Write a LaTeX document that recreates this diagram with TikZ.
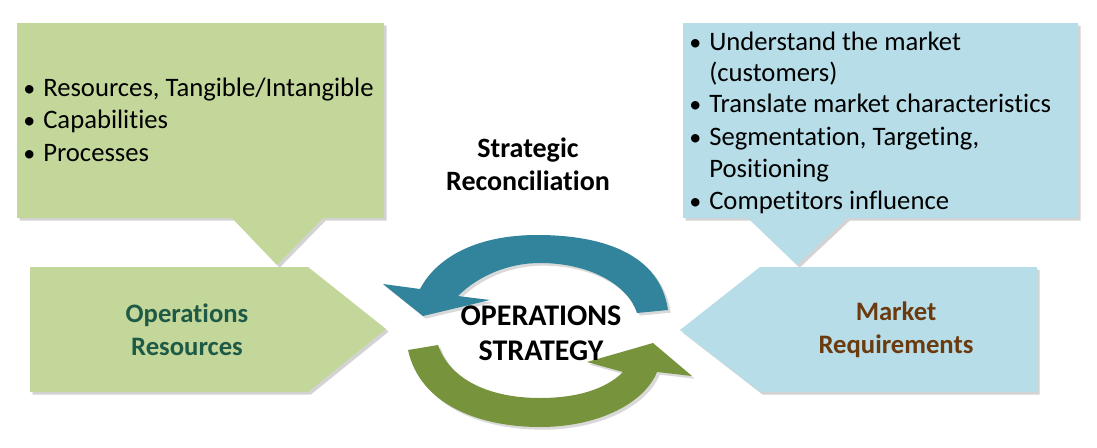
\documentclass[tikz,border=0pt]{standalone}
\usepackage{fontspec}
\setmainfont{Carlito}[Ligatures=NoCommon]
\usetikzlibrary{shadows}
\definecolor{gfill}{HTML}{C4D79B}
\definecolor{bfill}{HTML}{B7DEE8}
\definecolor{teal}{HTML}{31849B}
\definecolor{olive}{HTML}{77933C}
\definecolor{dgreen}{HTML}{1E5A46}
\definecolor{brown}{HTML}{6B3A0F}
\begin{document}
\begin{tikzpicture}[x=0.75pt,y=-0.75pt,
  shp/.style={draw=none,drop shadow={opacity=0.35,shadow xshift=2pt,shadow yshift=-2pt}},
  item/.style={anchor=base west,inner sep=0pt,font=\fontsize{20}{24}\selectfont},
  bul/.style={anchor=base west,inner sep=0pt,font=\fontsize{18}{24}\selectfont},
  lab/.style={align=center,font=\bfseries\fontsize{20}{25}\selectfont},
  arr/.style={draw=none,drop shadow={opacity=0.3,shadow xshift=2pt,shadow yshift=-2pt}}]
\useasboundingbox (0,0) rectangle (1097,447);
% left callout
\path[shp,fill=gfill] (17,23) -- (384,23) -- (384,218) -- (323,218) -- (277,265) -- (232,218) -- (17,218) -- cycle;
% left pentagon
\path[shp,fill=gfill] (30,267) -- (308,267) -- (386,329) -- (308,392) -- (30,392) -- cycle;
% right callout
\path[shp,fill=bfill] (683,23) -- (1078,23) -- (1078,218) -- (847,218) -- (797,265) -- (748,218) -- (683,218) -- cycle;
% right pentagon
\path[shp,fill=bfill] (760,267) -- (1037,267) -- (1037,392) -- (760,392) -- (680,330) -- cycle;
% top arrow
\path[arr,fill=teal] (668,310) .. controls (660,255) and (605,235) .. (537,235)
  .. controls (480,235) and (438,255) .. (420,289) -- (383,284) -- (423,316) -- (490,300) -- (458,296)
  .. controls (478,276) and (508,263) .. (540,263) .. controls (590,263) and (628,285) .. (637,313) -- cycle;
% bottom arrow
\path[arr,fill=olive] (408,350) .. controls (420,405) and (480,427) .. (540,427)
  .. controls (600,427) and (645,402) .. (657,372) -- (692,376) -- (653,343) -- (587,362) -- (623,372)
  .. controls (605,390) and (575,398) .. (540,398) .. controls (490,398) and (450,380) .. (438,345) -- cycle;
% texts
\node[bul] (lb1) at (23,96) {•};
\node[item] (l1) at (43,96) {Resources, Tangible/Intangible};
\node[bul] (lb2) at (23,128) {•};
\node[item] (l2) at (43,128) {Capabilities};
\node[bul] (lb3) at (23,161) {•};
\node[item] (l3) at (43,161) {Processes};
\node[bul] (rb1) at (689,50) {•};
\node[item] (r1) at (709,50) {Understand the market};
\node[item] (r1b) at (709,81) {(customers)};
\node[bul] (rb2) at (689,112) {•};
\node[item] (r2) at (709,112) {Translate market characteristics};
\node[bul] (rb3) at (689,145) {•};
\node[item] (r3) at (709,145) {Segmentation, Targeting,};
\node[item] (r3b) at (709,177) {Positioning};
\node[bul] (rb4) at (689,209) {•};
\node[item] (r4) at (709,209) {Competitors influence};
\node[lab,text=dgreen] (opres) at (187,330) {Operations\\Resources};
\node[lab,text=brown] (mkreq) at (896,330) {Market\\Requirements};
\node[lab,font=\bfseries\fontsize{21}{25}\selectfont] (rec) at (528,164) {Strategic\\Reconciliation};
\node[lab,font=\bfseries\fontsize{22.5}{26}\selectfont] (ops) at (541,333) {OPERATIONS\\STRATEGY};
\end{tikzpicture}
\end{document}
